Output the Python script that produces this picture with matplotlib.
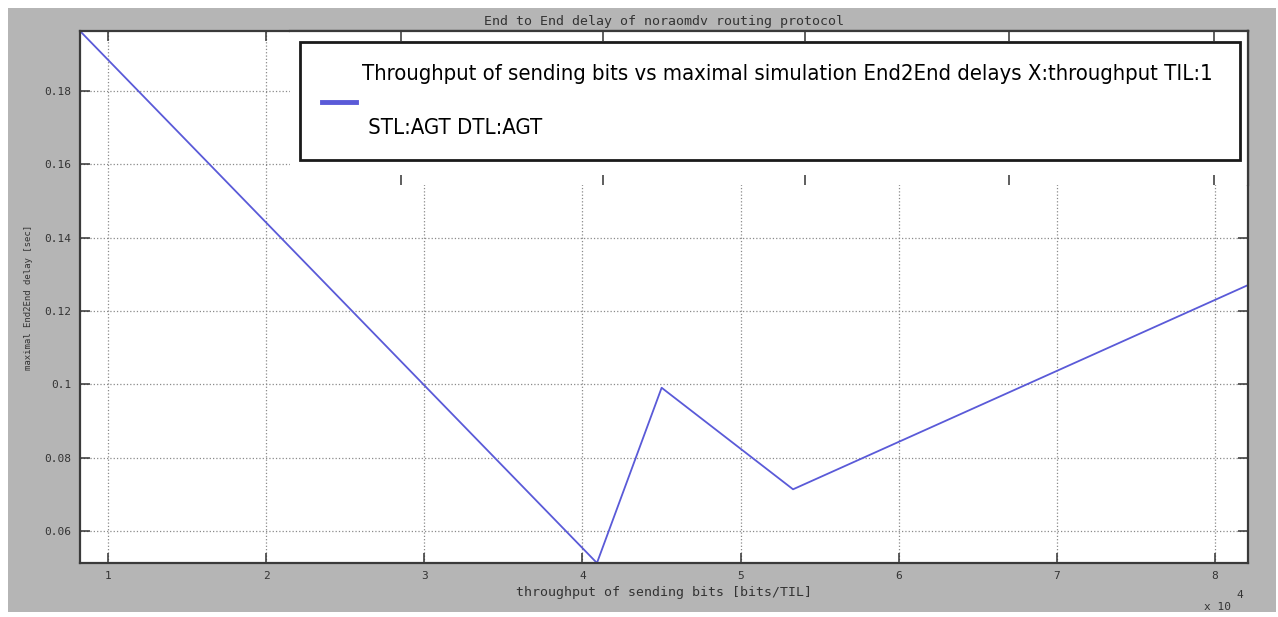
import matplotlib
matplotlib.use("Agg")
import matplotlib.pyplot as plt
from matplotlib.patches import Rectangle
from matplotlib.ticker import FuncFormatter, FormatStrFormatter

# values
throughput = [8230, 40920, 45010, 53320, 82090]      # bits/TIL
max_delay = [0.1964, 0.0513, 0.0991, 0.0714, 0.1271]  # sec
x_ticks = [10000, 20000, 30000, 40000, 50000, 60000, 70000, 80000]
y_ticks = [0.06, 0.08, 0.1, 0.12, 0.14, 0.16, 0.18]

title = "End to End delay of noraomdv routing protocol"
x_label = "throughput of sending bits [bits/TIL]"
y_label = "maximal End2End delay [sec]"
legend_label = ("Throughput of sending bits vs maximal simulation End2End delays X:throughput TIL:1\n"
                " STL:AGT DTL:AGT")

W, H, DPI = 1278, 617, 100
BG = "#b5b5b5"
LINE = "#5a5ad8"
INK = "#333333"
SPINE = "#3a3a3a"
NARROW = ["Liberation Sans Narrow", "DejaVu Sans"]

plt.rcParams["font.family"] = "DejaVu Sans Mono"

fig = plt.figure(figsize=(W / DPI, H / DPI), dpi=DPI, facecolor="white")
fig.add_artist(Rectangle((8 / W, 1 - 612 / H), 1268 / W, 604 / H, transform=fig.transFigure,
                         facecolor=BG, edgecolor="none", zorder=0))

# main axes
ax = fig.add_axes([80 / W, 1 - 563 / H, 1168 / W, 532 / H])
ax.plot(throughput, max_delay, color=LINE, lw=1.3)
ax.set_xlim(min(throughput), max(throughput))
ax.set_ylim(min(max_delay), max(max_delay))
ax.set_xticks(x_ticks)
ax.set_yticks(y_ticks)
ax.xaxis.set_major_formatter(FuncFormatter(lambda v, p: f"{v / 1e4:g}"))
ax.yaxis.set_major_formatter(FormatStrFormatter("%g"))
ax.grid(True, linestyle=":", color="#8a8a8a", linewidth=0.9)
ax.tick_params(direction="in", length=7, width=1.1, top=True, right=True,
               color=INK, labelcolor=INK, labelsize=8, pad=6)
for s in ax.spines.values():
    s.set_color(SPINE)
    s.set_linewidth(1.6)

ax.set_title(title, fontsize=9.5, color=INK, pad=4)
ax.set_xlabel(x_label, fontsize=9.5, color=INK)
ax.xaxis.set_label_coords(0.5, -0.043)
ax.set_ylabel(y_label, fontsize=6.5, color=INK)
ax.yaxis.set_label_coords(-0.040, 0.5)
ax.text(0.962, -0.083, "x 10", transform=ax.transAxes, fontsize=8, color=INK, ha="left", va="center")
ax.text(0.990, -0.060, "4", transform=ax.transAxes, fontsize=8, color=INK, ha="left", va="center")

# white legend panel on top of the plot (covers grid and top ticks)
lax = fig.add_axes([290 / W, 1 - 185 / H, 958 / W, 154 / H], zorder=3)
lax.set_facecolor("white")
for name, s in lax.spines.items():
    s.set_visible(name in ("top", "right"))
    s.set_color(SPINE)
    s.set_linewidth(1.6)
lax.set_xlim(0, 1)
lax.set_ylim(0, 1)
lax.set_xticks([0.116, 0.327, 0.538, 0.750, 0.964])
lax.set_yticks([])
lax.tick_params(axis="x", direction="in", top=True, bottom=True, labelbottom=False,
                length=7, width=1.1, color=INK)

# size the legend font so the first line spans the box like in the reference
probe = fig.text(0, 0, legend_label.split("\n")[0], fontsize=10, family=NARROW, fontstretch="condensed")
fig.canvas.draw()
w10 = probe.get_window_extent().width
probe.remove()
fs = 10 * 855 / w10
fs_px = fs * DPI / 72

leg = lax.legend(ax.get_lines(), [legend_label], loc="upper left",
                 bbox_to_anchor=(0.0104, 0.15, 0.9812, 0.778), mode="expand", borderaxespad=0,
                 prop={"family": NARROW, "size": fs, "stretch": "condensed"},
                 frameon=True, fancybox=False, framealpha=1,
                 edgecolor="#1a1a1a", handlelength=34 / fs_px, handletextpad=6 / fs_px,
                 borderpad=22 / fs_px)
leg.get_frame().set_linewidth(2)
leg.legend_handles[0].set_linewidth(3.5)
for t in leg.get_texts():
    t.set_linespacing(3.15)

fig.savefig("out.png", dpi=DPI, facecolor=fig.get_facecolor())
